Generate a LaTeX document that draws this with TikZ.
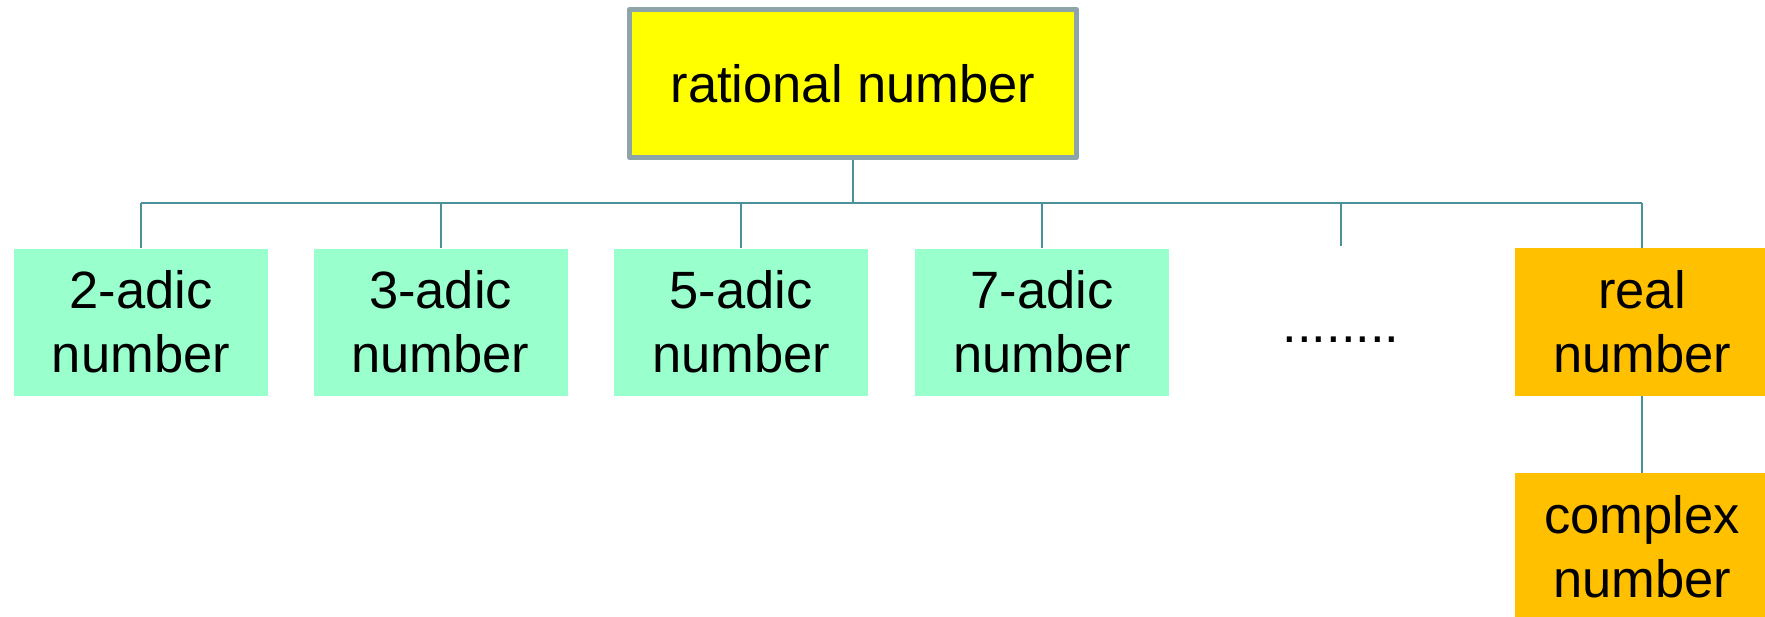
\documentclass[tikz,border=0pt]{standalone}
\usepackage{fontspec}
\setmainfont{Liberation Sans}
\definecolor{rootfill}{HTML}{FFFF00}
\definecolor{rootborder}{HTML}{8DA5A8}
\definecolor{padicfill}{HTML}{99FFCC}
\definecolor{realfill}{HTML}{FFC000}
\definecolor{connline}{HTML}{4B9199}
\tikzset{
  lbl/.style={font=\fontsize{26.25pt}{32pt}\selectfont, text=black, align=center, inner sep=0pt},
  rootbox/.style={lbl, fill=rootfill, draw=rootborder, line width=2.5pt, line join=round,
                  minimum width=223.5pt, minimum height=74pt},
  padicbox/.style={lbl, fill=padicfill, minimum width=127pt, minimum height=73.5pt},
  realbox/.style={lbl, fill=realfill, minimum width=127pt, minimum height=74pt},
  conn/.style={draw=connline, line width=1pt}
}
\begin{document}
\begin{tikzpicture}[x=0.5pt, y=-0.5pt]
\useasboundingbox (0,0) rectangle (1765,616);
\clip (0,0) rectangle (1765,616);
\node[rootbox] (root) at (853,83.5) {rational number};
\node[padicbox] (n2) at (141,322) {2-adic\\number};
\node[padicbox] (n3) at (440.5,322) {3-adic\\number};
\node[padicbox] (n5) at (741,322) {5-adic\\number};
\node[padicbox] (n7) at (1042,322) {7-adic\\number};
\node[lbl, anchor=base] (dots) at (1341,342) {........};
\node[realbox] (real) at (1642,322) {real\\number};
\node[realbox] (complex) at (1642,547) {complex\\number};
\coordinate (busy) at (0,203);
\coordinate (dotsend) at (1341,246);
\draw[conn] (root.south) -- (root.south |- busy);
\draw[conn] (n2.north |- busy) -- (real.north |- busy);
\draw[conn] (n2.north) -- (n2.north |- busy);
\draw[conn] (n3.north) -- (n3.north |- busy);
\draw[conn] (n5.north) -- (n5.north |- busy);
\draw[conn] (n7.north) -- (n7.north |- busy);
\draw[conn] (dotsend) -- (dotsend |- busy);
\draw[conn] (real.north) -- (real.north |- busy);
\draw[conn] (real.south) -- (complex.north);
\end{tikzpicture}
\end{document}
